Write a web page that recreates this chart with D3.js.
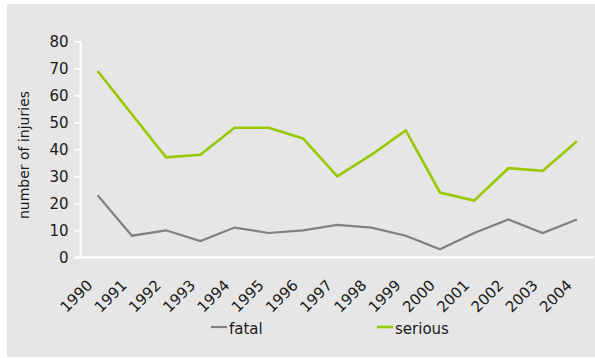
<!DOCTYPE html>
<html>
<head>
<meta charset="utf-8">
<script src="https://cdn.jsdelivr.net/npm/d3@7"></script>
<style>
  html, body { margin: 0; padding: 0; background: #fff; }
  svg { display: block; font-family: "DejaVu Sans", Verdana, sans-serif; }
</style>
</head>
<body>
<svg id="chart" width="595" height="358"></svg>
<script>
// Injuries per year
const years = ["1990","1991","1992","1993","1994","1995","1996","1997","1998","1999","2000","2001","2002","2003","2004"];
const fatal = [23, 8, 10, 6, 11, 9, 10, 12, 11, 8, 3, 9, 14, 9, 14];
const serious = [69, 53, 37, 38, 48, 48, 44, 30, 38, 47, 24, 21, 33, 32, 43];
const yTicks = [0, 10, 20, 30, 40, 50, 60, 70, 80];
const seriesNames = ["fatal", "serious"];
const seriesColors = ["#808080", "#99c800"];

const svg = d3.select("#chart");
const W = 595, H = 358;
const FONT = "DejaVu Sans, Verdana, sans-serif";

// panel background
svg.append("rect").attr("x", 7).attr("y", 4).attr("width", W - 7).attr("height", H - 5).attr("fill", "#e6e6e6");

const plotLeft = 80.5, plotRight = 594, plotTop = 41.3, plotBottom = 257.3;

const x = d3.scaleBand().domain(years).range([plotLeft, plotRight]);
const y = d3.scaleLinear().domain([0, 80]).range([plotBottom, plotTop]);
const cx = d => x(d) + x.bandwidth() / 2;

// y axis
const yAxis = svg.append("g").attr("transform", `translate(${plotLeft},0)`)
  .call(d3.axisLeft(y).tickValues(yTicks).tickSize(6).tickPadding(6).tickFormat(d3.format("d")));
yAxis.select(".domain").attr("stroke", "#fff").attr("stroke-width", 2).attr("d", `M0,${plotTop}V${plotBottom}`);
yAxis.selectAll(".tick line").attr("stroke", "#fff").attr("stroke-width", 2);
yAxis.selectAll(".tick text").attr("fill", "#1a1a1a").attr("font-size", 15).attr("font-family", FONT);

// x axis
const xAxis = svg.append("g").attr("transform", `translate(0,${plotBottom})`)
  .call(d3.axisBottom(x).tickSize(0).tickPadding(0));
xAxis.select(".domain").attr("stroke", "#fff").attr("stroke-width", 2).attr("d", `M${plotLeft - 6},0H${plotRight}`);
xAxis.selectAll(".tick text")
  .attr("fill", "#1a1a1a").attr("font-size", 15).attr("font-family", FONT)
  .attr("text-anchor", "end")
  .attr("y", 0).attr("dy", 0)
  .attr("transform", "translate(-4,29) rotate(-45)");

// y axis title
svg.append("text")
  .attr("transform", `translate(29,155) rotate(-90)`)
  .attr("text-anchor", "middle")
  .attr("font-size", 14)
  .attr("fill", "#1a1a1a")
  .text("number of injuries");

// lines
const line = d3.line().x((d, i) => cx(years[i])).y(d => y(d));
[fatal, serious].forEach((vals, k) => {
  svg.append("path").datum(vals)
    .attr("fill", "none")
    .attr("stroke", seriesColors[k])
    .attr("stroke-width", k === 0 ? 2.2 : 2.6)
    .attr("stroke-linejoin", "miter")
    .attr("d", line);
});

// legend
const legendX = [211, 377];
seriesNames.forEach((name, k) => {
  const g = svg.append("g").attr("transform", `translate(${legendX[k]},327)`);
  g.append("line").attr("x1", 0).attr("x2", 16).attr("y1", 0).attr("y2", 0)
    .attr("stroke", seriesColors[k]).attr("stroke-width", k === 0 ? 2.2 : 2.6);
  g.append("text").attr("x", 18).attr("y", 7).attr("font-size", 15).attr("fill", "#1a1a1a").text(name);
});
</script>
</body>
</html>
